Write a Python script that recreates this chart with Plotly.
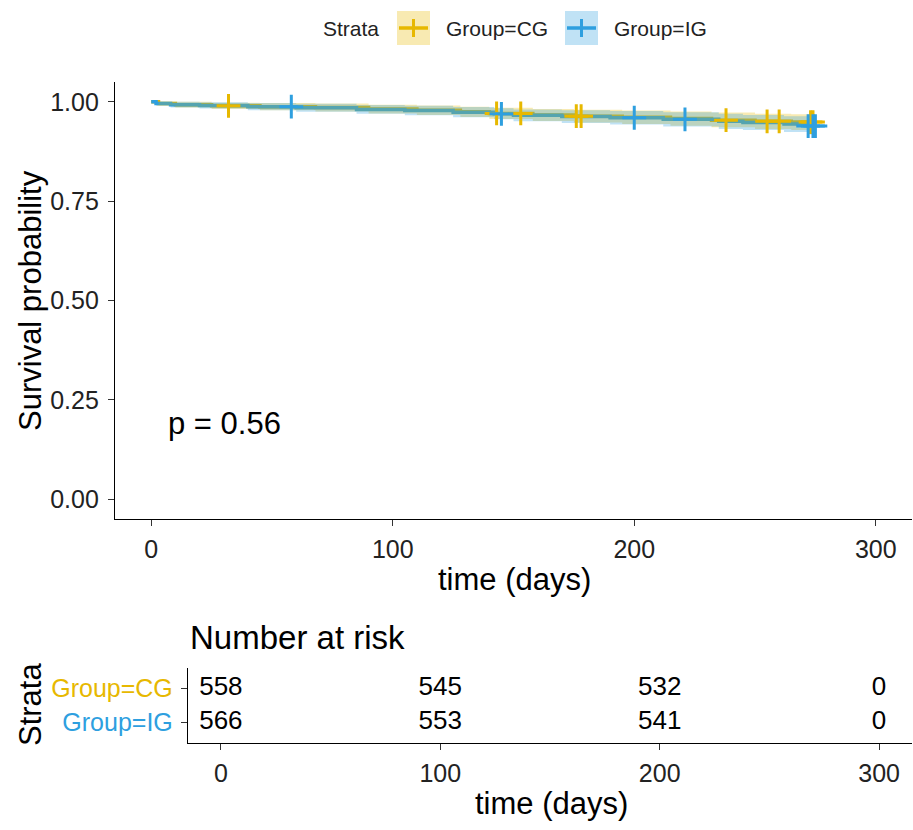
import plotly.graph_objects as go

W, H = 913, 830

# ---------------- data ----------------
groups = ["Group=CG", "Group=IG"]
colors = {"Group=CG": "#E7B800", "Group=IG": "#2E9FDF"}
bands = {"Group=CG": "rgba(231,184,0,0.30)", "Group=IG": "rgba(46,159,223,0.30)"}

cg_time = [0, 3, 10, 25, 45, 68, 90, 110, 128, 140, 158, 175, 195, 215, 232, 250, 265, 275]
cg_surv = [1.000, 0.996, 0.993, 0.990, 0.988, 0.986, 0.982, 0.979, 0.975, 0.971, 0.967, 0.964, 0.961, 0.958, 0.954, 0.951, 0.949, 0.949]
cg_lower = [1.000, 0.991, 0.986, 0.982, 0.979, 0.976, 0.971, 0.967, 0.962, 0.957, 0.952, 0.948, 0.944, 0.940, 0.936, 0.932, 0.929, 0.929]
cg_upper = [1.000, 1.000, 1.000, 0.998, 0.997, 0.996, 0.993, 0.991, 0.988, 0.985, 0.982, 0.980, 0.978, 0.976, 0.973, 0.970, 0.969, 0.969]
cg_cens = [32, 143, 153, 176, 178, 238, 255, 260, 273, 274]

ig_time = [0, 2, 8, 20, 40, 60, 85, 105, 125, 142, 150, 170, 190, 212, 235, 245, 262, 272, 275]
ig_surv = [1.000, 0.996, 0.993, 0.991, 0.988, 0.985, 0.981, 0.978, 0.974, 0.970, 0.966, 0.963, 0.960, 0.956, 0.951, 0.948, 0.944, 0.939, 0.939]
ig_lower = [1.000, 0.991, 0.986, 0.983, 0.979, 0.975, 0.970, 0.966, 0.961, 0.956, 0.951, 0.947, 0.943, 0.938, 0.932, 0.929, 0.924, 0.918, 0.918]
ig_upper = [1.000, 1.000, 1.000, 0.999, 0.997, 0.995, 0.992, 0.990, 0.987, 0.984, 0.981, 0.979, 0.977, 0.974, 0.970, 0.967, 0.964, 0.960, 0.960]
ig_cens = [58, 145, 200, 221, 272, 274, 275]

risk_times = [0, 100, 200, 300]
risk_cg = [558, 545, 532, 0]
risk_ig = [566, 553, 541, 0]

p_text = "p = 0.56"

series = {
    "Group=CG": dict(t=cg_time, s=cg_surv, lo=cg_lower, hi=cg_upper, c=cg_cens, risk=risk_cg),
    "Group=IG": dict(t=ig_time, s=ig_surv, lo=ig_lower, hi=ig_upper, c=ig_cens, risk=risk_ig),
}


def step_value(times, vals, t):
    v = vals[0]
    for ti, vi in zip(times, vals):
        if ti <= t:
            v = vi
    return v


FONT = "Liberation Sans, Arial, sans-serif"
TICK = 25
TITLE = 31


def px(x):
    return x / W


def py(y):
    return 1 - y / H


fig = go.Figure()

# lines (under ribbons, like ggsurvplot)
for g in groups:
    d = series[g]
    fig.add_trace(go.Scatter(
        x=d["t"], y=d["s"], mode="lines", line=dict(shape="hv", color=colors[g], width=3.5),
        showlegend=False, xaxis="x", yaxis="y", hoverinfo="skip"))

# ribbons
for g in groups:
    d = series[g]
    fig.add_trace(go.Scatter(x=d["t"], y=d["lo"], mode="lines", line=dict(shape="hv", width=0),
                             showlegend=False, xaxis="x", yaxis="y", hoverinfo="skip"))
    fig.add_trace(go.Scatter(x=d["t"], y=d["hi"], mode="lines", line=dict(shape="hv", width=0),
                             fill="tonexty", fillcolor=bands[g], showlegend=False,
                             xaxis="x", yaxis="y", hoverinfo="skip"))

# censor marks
for g in groups:
    d = series[g]
    cy = [step_value(d["t"], d["s"], t) for t in d["c"]]
    fig.add_trace(go.Scatter(x=d["c"], y=cy, mode="markers",
                             marker=dict(symbol="cross-thin", size=17, line=dict(width=3, color=colors[g])),
                             showlegend=False, xaxis="x", yaxis="y", hoverinfo="skip"))

# risk table
rows = {"Group=CG": 2, "Group=IG": 1}
for g in groups:
    d = series[g]
    fig.add_trace(go.Scatter(x=risk_times, y=[rows[g]] * len(risk_times), mode="text",
                             text=[str(v) for v in d["risk"]],
                             textfont=dict(family=FONT, size=26, color="black"),
                             textposition="middle center", showlegend=False,
                             xaxis="x2", yaxis="y2", hoverinfo="skip"))

axis_common = dict(showline=True, linecolor="black", linewidth=1.4, ticks="outside",
                   ticklen=6, tickwidth=1.4, tickcolor="#333333", showgrid=False, zeroline=False,
                   tickfont=dict(family=FONT, size=TICK, color="#222222"))

fig.update_layout(
    width=W, height=H,
    margin=dict(l=0, r=0, t=0, b=0),
    paper_bgcolor="white", plot_bgcolor="white",
    font=dict(family=FONT, color="black"),
    showlegend=False,
    xaxis=dict(domain=[px(115), px(912)], range=[-15, 315], tickvals=[0, 100, 200, 300],
               anchor="y", ticklabelstandoff=2, **axis_common),
    yaxis=dict(domain=[py(519), py(82)], range=[-0.05, 1.05], tickvals=[0, 0.25, 0.5, 0.75, 1.0],
               tickformat=".2f", anchor="x", ticklabelstandoff=4, **axis_common),
    xaxis2=dict(domain=[px(188), px(912)], range=[-15, 315], tickvals=[0, 100, 200, 300],
                anchor="y2", ticklabelstandoff=2, **axis_common),
    yaxis2=dict(domain=[py(743), py(668)], range=[0.4, 2.6], tickvals=[1, 2],
                ticktext=["<span style='color:#2E9FDF'>Group=IG</span>",
                          "<span style='color:#E7B800'>Group=CG</span>"],
                anchor="x2", ticklabelstandoff=3, **axis_common),
)

ann = [
    dict(text="Survival probability", x=px(30), y=py(301), textangle=-90, font=dict(size=TITLE)),
    dict(text="time (days)", x=px(514), y=py(579), font=dict(size=TITLE)),
    dict(text="Number at risk", x=px(188), y=py(637), xanchor="left", font=dict(size=33)),
    dict(text="Strata", x=px(30), y=py(705), textangle=-90, font=dict(size=TITLE)),
    dict(text="time (days)", x=px(551), y=py(803), font=dict(size=TITLE)),
]
for a in ann:
    a.setdefault("xanchor", "center")
    a.update(xref="paper", yref="paper", showarrow=False, yanchor="middle")
    a["font"].update(family=FONT, color="black")
    fig.add_annotation(**a)

fig.add_annotation(text=p_text, x=6, y=0.19, xref="x", yref="y", xanchor="left", yanchor="middle",
                   showarrow=False, font=dict(family=FONT, size=TITLE, color="black"))

# ---------- legend (drawn manually to match ggplot layout) ----------
LEG_Y = 28
fig.add_annotation(text="Strata", x=px(321), y=py(LEG_Y), xref="paper", yref="paper",
                   xanchor="left", yanchor="middle", showarrow=False,
                   font=dict(family=FONT, size=21, color="#222222"))
key_x = {"Group=CG": 397, "Group=IG": 565}
for g in groups:
    x0 = key_x[g]
    fig.add_shape(type="rect", xref="paper", yref="paper", x0=px(x0), x1=px(x0 + 33),
                  y0=py(45), y1=py(11), fillcolor=bands[g], line=dict(width=0), layer="below")
    fig.add_shape(type="line", xref="paper", yref="paper", x0=px(x0 + 2), x1=px(x0 + 31),
                  y0=py(LEG_Y), y1=py(LEG_Y), line=dict(color=colors[g], width=3.5))
    fig.add_shape(type="line", xref="paper", yref="paper", x0=px(x0 + 16.5), x1=px(x0 + 16.5),
                  y0=py(LEG_Y - 9), y1=py(LEG_Y + 9), line=dict(color=colors[g], width=3))
    fig.add_annotation(text=g, x=px(x0 + 47), y=py(LEG_Y), xref="paper", yref="paper",
                       xanchor="left", yanchor="middle", showarrow=False,
                       font=dict(family=FONT, size=21, color="#222222"))

fig.write_html("out.html")
